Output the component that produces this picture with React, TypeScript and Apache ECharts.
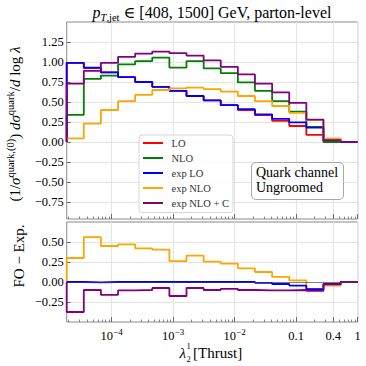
import React, { useEffect, useRef } from 'react';
import * as echarts from 'echarts';

// Bin edges in log10(lambda) (17 equal-width bins ending at lambda = 1)
const binEdgesLog10 = [-4.73, -4.452, -4.174, -3.895, -3.617, -3.339, -3.061, -2.783, -2.504, -2.226, -1.948, -1.67, -1.391, -1.113, -0.835, -0.557, -0.278, 0];

// Top panel: (1/sigma) dsigma / dlog lambda
const loValues = [0.99, 0.925, 0.87, 0.81, 0.75, 0.69, 0.64, 0.575, 0.52, 0.46, 0.40, 0.335, 0.265, 0.20, 0.09, 0.015, 0.0];
const nloValues = [0.34, 0.79, 0.83, 0.97, 1.01, 1.055, 0.93, 1.01, 0.92, 0.86, 0.745, 0.64, 0.51, 0.38, 0.19, 0.0, 0.0];
const expLoValues = [0.99, 0.93, 0.87, 0.81, 0.75, 0.69, 0.64, 0.575, 0.52, 0.46, 0.41, 0.345, 0.29, 0.245, 0.18, 0.04, 0.0];
const expNloValues = [0.045, 0.23, 0.40, 0.51, 0.59, 0.65, 0.67, 0.68, 0.66, 0.63, 0.575, 0.51, 0.45, 0.365, 0.275, 0.045, 0.0];
const expNloCValues = [0.73, 0.89, 0.99, 1.065, 1.105, 1.13, 1.11, 1.08, 1.02, 0.94, 0.845, 0.73, 0.62, 0.49, 0.28, 0.02, 0.0];

// Bottom panel: FO - Exp.
const diffLoValues = [0, -0.005, 0, 0, 0, 0, 0, 0, 0, 0, 0, -0.01, -0.025, -0.045, -0.09, -0.025, 0];
const diffNloValues = [0.30, 0.56, 0.45, 0.47, 0.42, 0.405, 0.26, 0.33, 0.255, 0.23, 0.17, 0.125, 0.065, 0.02, -0.085, -0.045, 0];
const diffNloCValues = [-0.375, -0.10, -0.16, -0.105, -0.10, -0.075, -0.175, -0.075, -0.10, -0.085, -0.10, -0.105, -0.105, -0.10, -0.11, -0.03, 0];

const legendNames = ['LO', 'NLO', 'exp LO', 'exp NLO', 'exp NLO + C'];

// Axis ticks
const xMajorLambda = [1e-4, 1e-3, 1e-2, 0.1, 0.4, 1];
const xMajorBase = ['10', '10', '10', '0.1', '0.4', '1'];
const xMajorExp = ['−4', '−3', '−2', '', '', ''];
const yTicksTop = [-0.75, -0.5, -0.25, 0, 0.25, 0.5, 0.75, 1, 1.25];
const yTicksBottom = [-0.25, 0, 0.25, 0.5];

const FONT = '"Liberation Serif", "DejaVu Serif", serif';
const C_RED = '#ff0000';
const C_GREEN = '#008000';
const C_BLUE = '#0000ff';
const C_ORANGE = '#ffa500';
const C_PURPLE = '#800080';
const FRAME = '#8a8a8a';
const GRIDLINE = '#e4e4e4';
const TICK = '#6a6a6a';

const XMIN = binEdgesLog10[0];
const XMAX = binEdgesLog10[binEdgesLog10.length - 1];
const xMajorLog = xMajorLambda.map((v) => Math.log10(v));
const xMinorLog: number[] = [];
for (let e = -5; e < 0; e++) {
  for (let k = 2; k <= 9; k++) {
    const v = Math.log10(k * Math.pow(10, e));
    if (v > XMIN && v < XMAX && Math.abs(v - Math.log10(0.4)) > 1e-6) xMinorLog.push(v);
  }
}

function stairs(values: number[]) {
  const n = values.length;
  const pts: number[][] = [[binEdgesLog10[0], 0]];
  values.forEach((v, i) => pts.push([binEdgesLog10[i], v]));
  pts.push([binEdgesLog10[n], values[n - 1]]);
  pts.push([binEdgesLog10[n], 0]);
  return pts;
}

const xLabelFormatter = (v: number) => {
  const i = xMajorLog.findIndex((t) => Math.abs(t - v) < 1e-6);
  if (i < 0) return '';
  return xMajorExp[i] ? `{b|${xMajorBase[i]}}{e|${xMajorExp[i]}}` : `{b|${xMajorBase[i]}}`;
};
const yLabelFormatter = (v: number) => (Math.abs(v) < 1e-9 ? '0.00' : v.toFixed(2).replace('-', '−'));

function majorX(gridIndex: number, showLabels: boolean) {
  return {
    type: 'value',
    gridIndex,
    min: XMIN,
    max: XMAX,
    position: 'bottom',
    axisLine: { show: false, onZero: false },
    axisTick: { show: true, inside: true, length: 5, customValues: xMajorLog, lineStyle: { color: TICK, width: 1 } },
    axisLabel: {
      show: showLabels,
      customValues: xMajorLog,
      formatter: xLabelFormatter,
      margin: 5,
      color: '#000',
      rich: {
        b: { fontFamily: FONT, fontSize: 12.5, lineHeight: 18, verticalAlign: 'middle', color: '#000' },
        e: { fontFamily: FONT, fontSize: 9, lineHeight: 9, verticalAlign: 'top', color: '#000' },
      },
    },
    splitLine: { show: true, lineStyle: { color: GRIDLINE, width: 1 } },
  };
}
function minorX(gridIndex: number) {
  return {
    type: 'value',
    gridIndex,
    min: XMIN,
    max: XMAX,
    position: 'bottom',
    axisLine: { show: false, onZero: false },
    axisTick: { show: true, inside: true, length: 2.5, customValues: xMinorLog, lineStyle: { color: TICK, width: 0.8 } },
    axisLabel: { show: false },
    splitLine: { show: false },
  };
}
function yAxisDef(gridIndex: number, min: number, max: number, ticks: number[]) {
  return {
    type: 'value',
    gridIndex,
    min,
    max,
    position: 'left',
    axisLine: { show: false, onZero: false },
    axisTick: { show: true, inside: true, length: 4, customValues: ticks, lineStyle: { color: TICK, width: 1 } },
    axisLabel: { customValues: ticks, formatter: yLabelFormatter, margin: 3, fontFamily: FONT, fontSize: 12.5, color: '#000' },
    splitLine: { show: true, lineStyle: { color: GRIDLINE, width: 1 } },
  };
}

function lineSeries(name: string, values: number[], color: string, xi: number, yi: number, extra: any = {}) {
  return {
    name,
    type: 'line',
    xAxisIndex: xi,
    yAxisIndex: yi,
    step: 'end',
    symbol: 'none',
    data: stairs(values),
    lineStyle: { color, width: 1.8 },
    itemStyle: { color },
    emphasis: { disabled: true },
    ...extra,
  };
}

const rich = (size: number, supSize: number, lh: number = size + 6) => ({
  n: { fontFamily: FONT, fontSize: size, lineHeight: lh, verticalAlign: 'middle', fill: '#000' },
  i: { fontFamily: FONT, fontSize: size, fontStyle: 'italic', lineHeight: lh, verticalAlign: 'middle', fill: '#000' },
  s: { fontFamily: FONT, fontSize: supSize, lineHeight: supSize + 1, verticalAlign: 'top', fill: '#000' },
  si: { fontFamily: FONT, fontSize: supSize, fontStyle: 'italic', lineHeight: supSize + 1, verticalAlign: 'top', fill: '#000' },
  sub: { fontFamily: FONT, fontSize: supSize, lineHeight: supSize + 1, verticalAlign: 'bottom', fill: '#000' },
  subi: { fontFamily: FONT, fontSize: supSize, fontStyle: 'italic', lineHeight: supSize + 1, verticalAlign: 'bottom', fill: '#000' },
});

const plainText = (x: number, y: number, text: string, size: number, align: string, italic = false) => ({
  type: 'text',
  x,
  y,
  z: 100,
  style: {
    text,
    fontFamily: FONT,
    fontSize: size,
    fontStyle: italic ? 'italic' : 'normal',
    fill: '#000',
    align,
    verticalAlign: 'middle',
  },
});

const option: any = {
  animation: false,
  backgroundColor: '#fff',
  textStyle: { fontFamily: FONT },
  grid: [
    { left: 66.7, right: 8.3, top: 22, height: 197, show: true, borderColor: FRAME, borderWidth: 1, backgroundColor: 'transparent', outerBoundsMode: 'none' },
    { left: 66.7, right: 8.3, top: 222, height: 100, show: true, borderColor: FRAME, borderWidth: 1, backgroundColor: 'transparent', outerBoundsMode: 'none' },
  ],
  xAxis: [majorX(0, false), minorX(0), majorX(1, true), minorX(1)],
  yAxis: [yAxisDef(0, -0.9625, 1.5, yTicksTop), yAxisDef(1, -0.5, 0.75, yTicksBottom)],
  legend: {
    data: legendNames,
    orient: 'vertical',
    left: 139,
    top: 135,
    icon: 'rect',
    itemWidth: 20,
    itemHeight: 2,
    itemGap: 2,
    selectedMode: false,
    padding: [1.5, 4, 3, 4],
    backgroundColor: 'rgba(255,255,255,0.85)',
    borderColor: '#d6d6d6',
    borderWidth: 1,
    borderRadius: 3,
    textStyle: { fontFamily: FONT, fontSize: 10.5, lineHeight: 13, color: '#333', padding: [0, 0, 0, 3.5] },
  },
  series: [
    lineSeries('LO', loValues, C_RED, 0, 0),
    lineSeries('NLO', nloValues, C_GREEN, 0, 0),
    lineSeries('exp LO', expLoValues, C_BLUE, 0, 0),
    lineSeries('exp NLO', expNloValues, C_ORANGE, 0, 0),
    lineSeries('exp NLO + C', expNloCValues, C_PURPLE, 0, 0),
    lineSeries('NLO − exp NLO', diffNloValues, C_ORANGE, 2, 1),
    lineSeries('LO − exp LO', diffLoValues, C_BLUE, 2, 1),
    lineSeries('NLO − exp NLO + C', diffNloCValues, C_PURPLE, 2, 1, {
      markLine: {
        silent: true,
        symbol: 'none',
        label: { show: false },
        lineStyle: { color: 'rgba(60,60,60,0.6)', width: 1, type: 'solid' },
        data: [{ yAxis: 0 }],
      },
    }),
  ],
  graphic: [
    {
      type: 'text',
      x: 212,
      y: 12,
      z: 100,
      style: {
        text: '{i|p}{subi|T}{sub|,jet}{n| ∈ [408, 1500] GeV, parton-level}',
        align: 'center',
        verticalAlign: 'middle',
        rich: rich(16, 10.5),
      },
    },
    {
      type: 'text',
      x: 15,
      y: 124,
      rotation: Math.PI / 2,
      z: 100,
      style: {
        text: '{n|(1/}{i|σ}{s|quark,(0)}{n|) }{i|dσ}{s|quark}{n|/}{i|d}{n| log }{i|λ}',
        align: 'center',
        verticalAlign: 'middle',
        rich: rich(15, 10.5),
      },
    },
    {
      type: 'text',
      x: 19,
      y: 256,
      rotation: Math.PI / 2,
      z: 100,
      style: {
        text: '{n|FO − Exp.}',
        align: 'center',
        verticalAlign: 'middle',
        rich: rich(15, 10.5),
      },
    },
    // x-axis name: lambda_2^1 [Thrust]
    plainText(186, 353, 'λ', 15, 'right', true),
    plainText(186.5, 345.5, '1', 8.5, 'left'),
    plainText(186.5, 359, '2', 8.5, 'left'),
    plainText(193, 352.5, '[Thrust]', 15, 'left'),
    {
      type: 'text',
      x: 252,
      y: 163,
      z: 100,
      style: {
        text: 'Quark channel\nUngroomed',
        fontFamily: FONT,
        fontSize: 14,
        lineHeight: 15,
        fill: '#000',
        align: 'left',
        verticalAlign: 'top',
        backgroundColor: '#fff',
        borderColor: '#a8a8a8',
        borderWidth: 1,
        borderRadius: 4,
        padding: [2, 5, 4, 4],
      },
    },
  ],
};

export default function App() {
  const ref = useRef<HTMLDivElement>(null);
  useEffect(() => {
    const chart = echarts.init(ref.current as HTMLDivElement, null, { renderer: 'svg' });
    chart.setOption(option);
    return () => chart.dispose();
  }, []);
  return (
    <div
      ref={ref}
      style={{ position: 'absolute', left: 0, top: 0, width: 366, height: 366, background: '#fff' }}
    />
  );
}
